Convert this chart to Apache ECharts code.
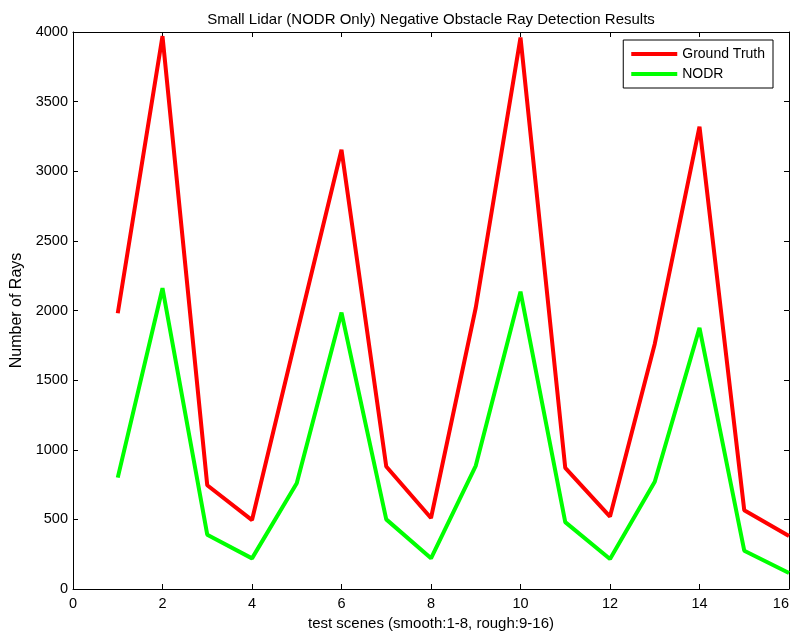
<!DOCTYPE html>
<html><head><meta charset="utf-8">
<script src="https://cdn.jsdelivr.net/npm/echarts@6/dist/echarts.min.js"></script>
<style>html,body{margin:0;padding:0;background:#fff}#c{width:791px;height:634px}</style>
</head><body><div id="c"></div>
<script>
const scenes = [1,2,3,4,5,6,7,8,9,10,11,12,13,14,15,16];
const groundTruth = [1980,3970,745,495,1830,3155,880,510,2020,3960,870,520,1760,3320,565,380];
const nodr = [800,2160,390,220,760,1985,500,220,885,2135,480,215,770,1875,275,115];
const xTicks = [0,2,4,6,8,10,12,14,16];
const yTicks = [0,500,1000,1500,2000,2500,3000,3500,4000];

const font = 'Liberation Sans, Arial, sans-serif';
function ax(extra){
  return Object.assign({
    axisLine:{show:true,onZero:false,lineStyle:{color:'#000',width:1}},
    axisTick:{show:true,inside:true,length:5,lineStyle:{color:'#000'}},
    splitLine:{show:false}
  }, extra);
}
const chart = echarts.init(document.getElementById('c'));
chart.setOption({
  animation:false,
  backgroundColor:'#fff',
  title:{text:'Small Lidar (NODR Only) Negative Obstacle Ray Detection Results',left:426,top:7,textAlign:'center',
    textStyle:{fontFamily:font,fontSize:15,fontWeight:'normal',color:'#000'}},
  legend:{orient:'vertical',right:18,top:40,itemWidth:46,itemHeight:4,itemGap:6,
    borderColor:'#000',borderWidth:1,padding:[7,8,7,8],backgroundColor:'#fff',
    icon:'rect',
    textStyle:{fontFamily:font,fontSize:14,color:'#000'},
    data:['Ground Truth','NODR']},
  grid:{left:73,right:2,top:32,bottom:45,containLabel:false,outerBoundsMode:'none'},
  xAxis:[
    ax({type:'value',min:0,max:16,interval:2,position:'bottom',
      name:'test scenes (smooth:1-8, rough:9-16)',nameLocation:'middle',nameGap:25,
      nameTextStyle:{fontFamily:font,fontSize:15,color:'#000'},
      axisLabel:{fontFamily:font,fontSize:14.5,color:'#000',margin:7,alignMaxLabel:'right',
        formatter:v=>xTicks.includes(v)?String(v):''}}),
    ax({type:'value',min:0,max:16,interval:2,position:'top',axisLabel:{show:false}})
  ],
  yAxis:[
    ax({type:'value',min:0,max:4000,interval:500,position:'left',
      name:'Number of Rays',nameLocation:'middle',nameGap:42,
      nameTextStyle:{fontFamily:font,fontSize:16,color:'#000'},
      axisLabel:{fontFamily:font,fontSize:14.5,color:'#000',margin:5,
        formatter:v=>yTicks.includes(v)?String(v):''}}),
    ax({type:'value',min:0,max:4000,interval:500,position:'right',axisLabel:{show:false}})
  ],
  series:[
    {name:'Ground Truth',type:'line',data:scenes.map((s,i)=>[s,groundTruth[i]]),
      showSymbol:false,symbol:'none',lineStyle:{color:'#ff0000',width:4},itemStyle:{color:'#ff0000'}},
    {name:'NODR',type:'line',data:scenes.map((s,i)=>[s,nodr[i]]),
      showSymbol:false,symbol:'none',lineStyle:{color:'#00ff00',width:4},itemStyle:{color:'#00ff00'}}
  ]
});
</script></body></html>
